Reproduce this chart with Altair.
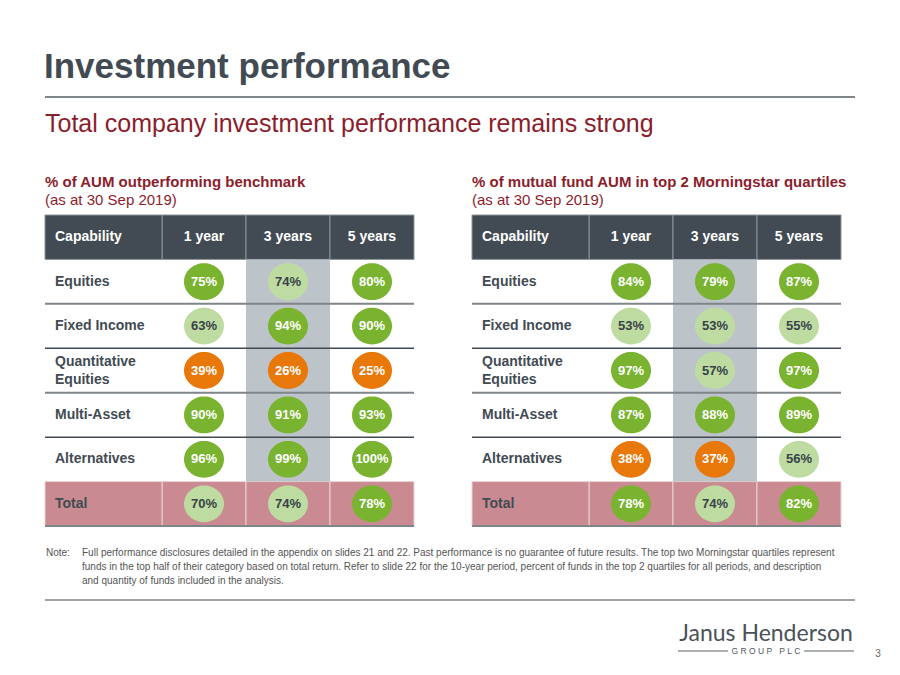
import altair as alt
import pandas as pd

# ---------------- data ----------------
title_text = "Investment performance"
subtitle_text = "Total company investment performance remains strong"
left_heading = "% of AUM outperforming benchmark"
right_heading = "% of mutual fund AUM in top 2 Morningstar quartiles"
as_at_text = "(as at 30 Sep 2019)"
header_first = "Capability"
periods = ["1 year", "3 years", "5 years"]
capabilities = ["Equities", "Fixed Income", "Quantitative Equities", "Multi-Asset", "Alternatives", "Total"]
capability_labels = ["Equities", "Fixed Income", "Quantitative\nEquities", "Multi-Asset", "Alternatives", "Total"]

aum_1y = [75, 63, 39, 90, 96, 70]
aum_3y = [74, 94, 26, 91, 99, 74]
aum_5y = [80, 90, 25, 93, 100, 78]

ms_1y = [84, 53, 97, 87, 38, 78]
ms_3y = [79, 53, 57, 88, 37, 74]
ms_5y = [87, 55, 97, 89, 56, 82]

note_label = "Note:"
note_lines = [
    "Full performance disclosures detailed in the appendix on slides 21 and 22. Past performance is no guarantee of future results. The top two Morningstar quartiles represent",
    "funds in the top half of their category based on total return. Refer to slide 22 for the 10-year period, percent of funds in the top 2 quartiles for all periods, and description",
    "and quantity of funds included in the analysis.",
]
logo_text = "Janus Henderson"
logo_sub = "\u00a0".join("GROUP") + "\u00a0\u00a0\u00a0" + "\u00a0".join("PLC")
page_number = "3"

# ---------------- style ----------------
FONT = "Liberation Sans, Arial, Helvetica, sans-serif"
DARK = "#424B53"
RED = "#8C1D2C"
GREY_LINE = "#80858A"
COL_GREY = "#BCC4C9"
PINK = "#C98B91"
GREEN = "#79B32F"
LIGHT = "#BEDCA2"
ORANGE = "#E8780A"
ELLIPSE = "M -1 0 A 1 0.92 0 1 1 1 0 A 1 0.92 0 1 1 -1 0 Z"

rows = [header_first] + capabilities
one = pd.DataFrame({"k": [0]})


def text_layer(text, x, y, size, color, weight="normal", align="left", baseline="alphabetic", font=FONT, **kw):
    return alt.Chart(one).mark_text(
        align=align, baseline=baseline, font=font, fontSize=size, fontWeight=weight, color=color, **kw
    ).encode(x=alt.value(x), y=alt.value(y), text=alt.value(text))


def hrule(x1, x2, y, color, width):
    return alt.Chart(one).mark_rule(color=color, strokeWidth=width).encode(
        x=alt.value(x1), x2=alt.value(x2), y=alt.value(y)
    )


def build_table(series, x0, heading):
    cap_w, total_w = 117, 369
    xs = alt.Scale(domain=periods, range=[x0 + cap_w, x0 + total_w], paddingInner=0, paddingOuter=0)
    ys = alt.Scale(domain=rows, range=[207, 518], paddingInner=0, paddingOuter=0)
    X = alt.X("period:N", scale=xs, axis=None)
    Y = alt.Y("row:N", scale=ys, axis=None)

    cells = pd.DataFrame(
        [{"row": c, "period": p, "value": series[j][i]} for j, p in enumerate(periods) for i, c in enumerate(capabilities)]
    )
    head = pd.DataFrame({"row": [header_first] * 3, "period": periods})
    tot = pd.DataFrame({"row": ["Total"] * 3, "period": periods})
    col3 = pd.DataFrame({"row": capabilities[:-1], "period": ["3 years"] * 5})
    first_col = pd.DataFrame({"row": capabilities, "label": capability_labels})
    single = first_col[~first_col["label"].str.contains("\n")]
    multi = first_col[first_col["label"].str.contains("\n")]

    layers = [
        text_layer(heading, x0, 179, 15, RED, weight="bold"),
        text_layer(as_at_text, x0, 197, 15, RED),
        # header row
        alt.Chart(head).mark_rect(fill=DARK, stroke="#8d959b", strokeWidth=1).encode(x=X, y=Y),
        alt.Chart(pd.DataFrame({"row": [header_first]})).mark_rect(fill=DARK, stroke="#8d959b", strokeWidth=1).encode(
            x=alt.value(x0), x2=alt.value(x0 + cap_w), y=Y
        ),
        # total row
        alt.Chart(tot).mark_rect(fill=PINK, stroke="#ead2d5", strokeWidth=1).encode(x=X, y=Y),
        alt.Chart(pd.DataFrame({"row": ["Total"]})).mark_rect(fill=PINK, stroke="#ead2d5", strokeWidth=1).encode(
            x=alt.value(x0), x2=alt.value(x0 + cap_w), y=Y
        ),
        # highlighted 3-year column
        alt.Chart(col3).mark_rect(fill=COL_GREY).encode(x=X, y=Y),
        # separators
        alt.Chart(pd.DataFrame({"row": ["Fixed Income", "Multi-Asset"]})).mark_rule(color=GREY_LINE, strokeWidth=2).encode(
            x=alt.value(x0), x2=alt.value(x0 + total_w), y=alt.Y("row:N", scale=ys, axis=None, bandPosition=0)
        ),
        alt.Chart(pd.DataFrame({"row": ["Quantitative Equities", "Alternatives"]})).mark_rule(color=DARK, strokeWidth=1.5).encode(
            x=alt.value(x0), x2=alt.value(x0 + total_w), y=alt.Y("row:N", scale=ys, axis=None, bandPosition=0)
        ),
        alt.Chart(pd.DataFrame({"row": ["Total"]})).mark_rule(color=GREY_LINE, strokeWidth=2).encode(
            x=alt.value(x0), x2=alt.value(x0 + total_w), y=alt.Y("row:N", scale=ys, axis=None, bandPosition=1)
        ),
        # header texts
        alt.Chart(head).mark_text(font=FONT, fontSize=14, fontWeight="bold", color="white").encode(
            x=X, y=Y, text="period:N"
        ),
        alt.Chart(pd.DataFrame({"row": [header_first]})).mark_text(
            font=FONT, fontSize=14, fontWeight="bold", color="white", align="left"
        ).encode(x=alt.value(x0 + 10), y=Y, text="row:N"),
        # capability labels
        alt.Chart(single).mark_text(
            font=FONT, fontSize=14, fontWeight="bold", color=DARK, align="left"
        ).encode(x=alt.value(x0 + 10), y=Y, text="label:N"),
        alt.Chart(multi).mark_text(
            font=FONT, fontSize=14, fontWeight="bold", color=DARK, align="left", lineBreak="\n", lineHeight=18, dy=-9
        ).encode(x=alt.value(x0 + 10), y=Y, text="label:N"),
        # bubbles
        alt.Chart(cells).mark_point(shape=ELLIPSE, filled=True, size=1600, opacity=1, strokeWidth=0).encode(
            x=X,
            y=Y,
            color=alt.Color(
                "value:Q",
                scale=alt.Scale(type="threshold", domain=[50, 75], range=[ORANGE, LIGHT, GREEN]),
                legend=None,
            ),
        ),
        alt.Chart(cells).transform_calculate(label="datum.value + '%'").mark_text(
            font=FONT, fontSize=13, fontWeight="bold"
        ).encode(
            x=X,
            y=Y,
            text="label:N",
            color=alt.Color(
                "value:Q",
                scale=alt.Scale(type="threshold", domain=[50, 75], range=["white", "#3A4249", "white"]),
                legend=None,
            ),
        ),
    ]
    return layers


left = build_table([aum_1y, aum_3y, aum_5y], 37, left_heading)
right = build_table([ms_1y, ms_3y, ms_5y], 464, right_heading)

decor = [
    text_layer(title_text, 36, 70, 35, DARK, weight="bold"),
    hrule(37, 847, 89, GREY_LINE, 2),
    text_layer(subtitle_text, 37, 124, 25, RED),
    text_layer(note_label, 38, 548, 10, "#555555"),
    text_layer(note_lines, 74, 548, 10, "#555555", lineHeight=14),
    hrule(37, 847, 592, GREY_LINE, 1.5),
    text_layer(logo_text, 758, 626, 23, "#4B5258", align="center", baseline="middle", font="Lato, Liberation Sans, sans-serif"),
    hrule(670, 720, 643, "#5d6369", 1),
    hrule(796, 846, 643, "#5d6369", 1),
    text_layer(logo_sub, 758, 643, 8.5, "#51585E", align="center", baseline="middle"),
    text_layer(page_number, 870, 649, 10, "#666666", align="center"),
]

chart = (
    alt.layer(*decor, *left, *right)
    .resolve_scale(x="independent", color="independent")
    .properties(width=884, height=659, autosize="none", padding=0, background="white")
    .configure_view(stroke=None)
)

chart.save("out.html", embed_options={"renderer": "svg", "actions": False})
